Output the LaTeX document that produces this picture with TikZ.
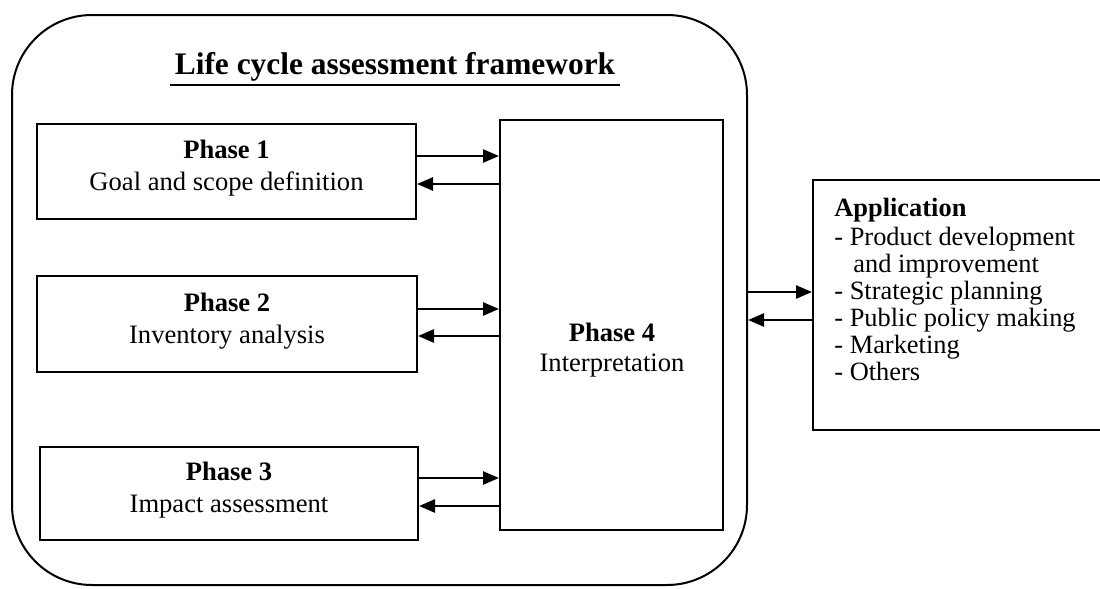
\documentclass[tikz,border=0pt]{standalone}
\usepackage{fontspec}
\setmainfont{Liberation Serif}
\usetikzlibrary{arrows.meta}
\begin{document}
\begin{tikzpicture}[x=0.5pt,y=-0.5pt,
  box/.style={draw,line width=1pt,inner sep=0pt},
  ptext/.style={align=center,inner sep=0pt,anchor=base,font=\fontsize{13.3}{15.75}\selectfont},
  arr/.style={line width=1.3pt,-{Triangle[length=8pt,width=6.5pt]}}]
\useasboundingbox (0,0) rectangle (1100,589);
\clip (0,0) rectangle (1100,589);
\fill[white] (0,0) rectangle (1100,589);
\node[box,rounded corners=40pt,minimum width=367.5pt,minimum height=285pt] (frame) at (379.5,300) {};
\node[font=\fontsize{15.7}{18}\selectfont\bfseries,anchor=base,inner sep=0pt] (title) at (395,75) {Life cycle assessment framework};
\draw[line width=1.4pt] ([xshift=-2pt]title.west |- 0,85) -- ([xshift=2pt]title.east |- 0,85);
\node[box,minimum width=189.5pt,minimum height=47.5pt] (p1) at (226.5,171.5) {};
\node[box,minimum width=190pt,minimum height=48pt] (p2) at (227,324) {};
\node[box,minimum width=189pt,minimum height=46.5pt] (p3) at (229,493.5) {};
\node[box,minimum width=111.5pt,minimum height=205pt] (p4) at (611.5,325) {};
\node[box,minimum width=148.5pt,minimum height=125pt] (app) at (961.5,305) {};
\node[ptext] (t1) at (226.5,190) {\textbf{Phase 1}\\Goal and scope definition};
\node[ptext] (t2) at (227,343) {\textbf{Phase 2}\\Inventory analysis};
\node[ptext] (t3) at (229,512) {\textbf{Phase 3}\\Impact assessment};
\node[ptext,font=\fontsize{13.3}{15}\selectfont] (t4) at (612,371) {\textbf{Phase 4}\\Interpretation};
\node[anchor=base west,align=left,inner sep=0pt,font=\fontsize{13.2}{13.5}\selectfont] (apptext) at (834,380)
  {\textbf{Application}\\[1pt]- Product development\\\hspace*{0.72em}and improvement\\- Strategic planning\\- Public policy making\\- Marketing\\- Others};
\draw[arr] (p1.east |- 0,156) -- (p4.west |- 0,156);
\draw[arr] (p4.west |- 0,184) -- (p1.east |- 0,184);
\draw[arr] (p2.east |- 0,309) -- (p4.west |- 0,309);
\draw[arr] (p4.west |- 0,336) -- (p2.east |- 0,336);
\draw[arr] (p3.east |- 0,478) -- (p4.west |- 0,478);
\draw[arr] (p4.west |- 0,506) -- (p3.east |- 0,506);
\draw[arr] (frame.east |- 0,292) -- (app.west |- 0,292);
\draw[arr] (app.west |- 0,320) -- (frame.east |- 0,320);
\end{tikzpicture}
\end{document}
